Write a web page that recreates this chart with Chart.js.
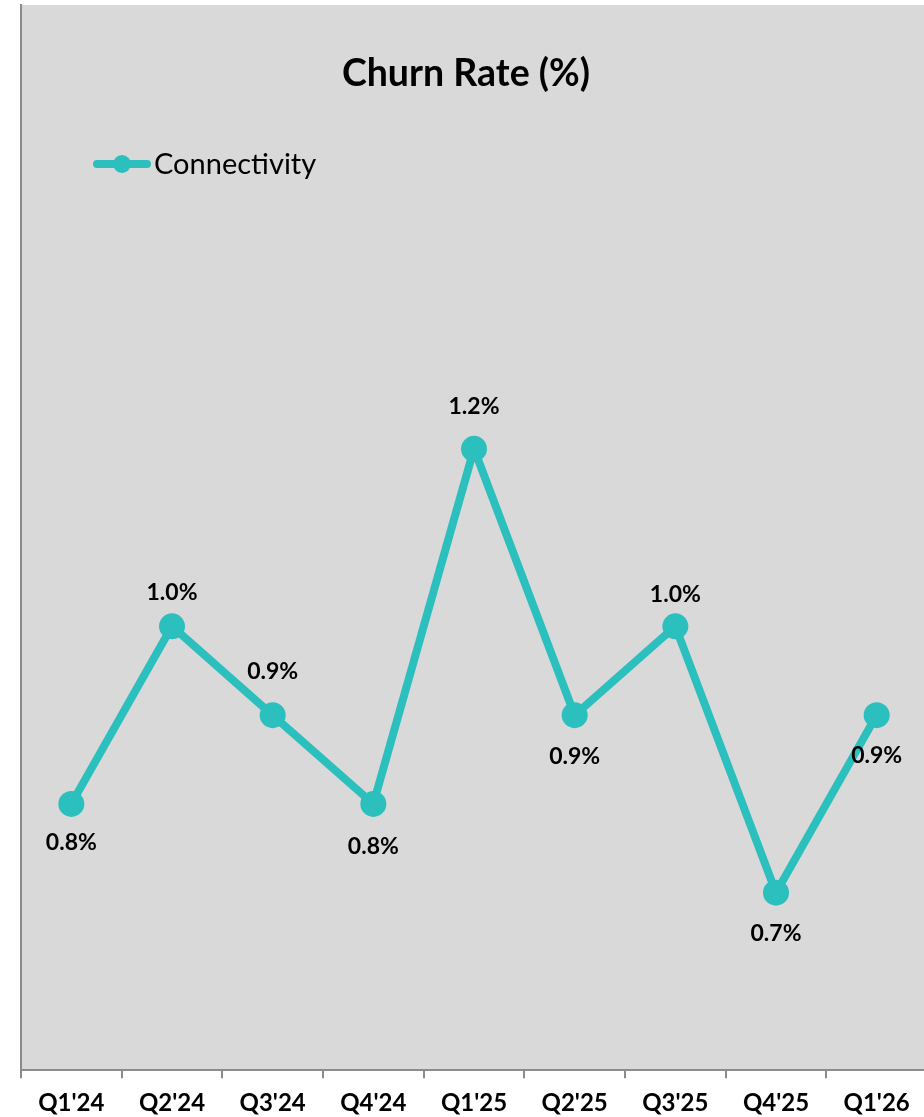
<!DOCTYPE html>
<html>
<head>
<meta charset="utf-8">
<script src="https://cdn.jsdelivr.net/npm/chart.js@4.4.1/dist/chart.umd.min.js"></script>
<style>
  html, body { margin: 0; padding: 0; background: #ffffff; overflow: hidden; }
  #wrap { position: relative; width: 927px; height: 1117px; }
</style>
</head>
<body>
<div id="wrap"><canvas id="c"></canvas></div>
<script>
// ---- data ----
const categories = ["Q1'24", "Q2'24", "Q3'24", "Q4'24", "Q1'25", "Q2'25", "Q3'25", "Q4'25", "Q1'26"];
const churnConnectivity = [0.8, 1.0, 0.9, 0.8, 1.2, 0.9, 1.0, 0.7, 0.9];
const seriesName = "Connectivity";
const chartTitle = "Churn Rate (%)";

// ---- style ----
const TEAL = '#2bbfbd';
const AXIS = '#8c8c8c';
const PLOT_BG = '#d9d9d9';
const FONT = 'Lato, "Open Sans", sans-serif';
// vertical offset (px) of each value label centre from its point
const labelOffsets = [38, -35, -44, 42, -43, 41, -33, 40, 40];
const LABEL_SIZE = 23;

const plotBackground = {
  id: 'plotBackground',
  beforeDraw(chart) {
    const { ctx, chartArea: a } = chart;
    ctx.save();
    ctx.fillStyle = PLOT_BG;
    ctx.fillRect(a.left, a.top, a.right - a.left, a.bottom - a.top);
    ctx.restore();
  }
};

const titleLegend = {
  id: 'titleLegend',
  afterDraw(chart) {
    const { ctx } = chart;
    ctx.save();
    // title
    ctx.fillStyle = '#000';
    ctx.font = 'bold 37.5px ' + FONT;
    ctx.textAlign = 'center';
    ctx.textBaseline = 'alphabetic';
    ctx.fillText(chartTitle, 466, 86);
    // legend
    ctx.strokeStyle = TEAL;
    ctx.lineWidth = 8;
    ctx.lineCap = 'round';
    ctx.beginPath();
    ctx.moveTo(97, 164);
    ctx.lineTo(147, 164);
    ctx.stroke();
    ctx.fillStyle = TEAL;
    ctx.beginPath();
    ctx.arc(122, 164, 9, 0, Math.PI * 2);
    ctx.fill();
    ctx.fillStyle = '#000';
    ctx.font = '29px ' + FONT;
    ctx.textAlign = 'left';
    ctx.fillText(seriesName, 154, 174);
    ctx.restore();
  }
};

const valueLabels = {
  id: 'valueLabels',
  afterDatasetsDraw(chart) {
    const { ctx } = chart;
    const meta = chart.getDatasetMeta(0);
    const ds = chart.data.datasets[0];
    ctx.save();
    ctx.fillStyle = '#000';
    ctx.font = 'bold ' + LABEL_SIZE + 'px ' + FONT;
    ctx.textAlign = 'center';
    ctx.textBaseline = 'alphabetic';
    meta.data.forEach((pt, i) => {
      const cy = pt.y + labelOffsets[i];
      ctx.fillText(ds.data[i].toFixed(1) + '%', pt.x, cy + LABEL_SIZE * 0.36);
    });
    ctx.restore();
  }
};

new Chart(document.getElementById('c'), {
  type: 'line',
  data: {
    labels: categories,
    datasets: [{
      label: seriesName,
      data: churnConnectivity,
      borderColor: TEAL,
      backgroundColor: TEAL,
      borderWidth: 8,
      pointRadius: 13,
      pointHoverRadius: 13,
      pointBorderWidth: 0,
      pointBackgroundColor: TEAL,
      tension: 0,
      fill: false
    }]
  },
  options: {
    responsive: true,
    maintainAspectRatio: false,
    animation: false,
    devicePixelRatio: 1,
    layout: { autoPadding: false, padding: { left: 21, top: 5, right: 0, bottom: -12 } },
    plugins: {
      legend: { display: false },
      title: { display: false },
      tooltip: { enabled: false }
    },
    scales: {
      x: {
        type: 'category',
        offset: true,
        grid: {
          display: true,
          offset: true,
          drawOnChartArea: false,
          drawTicks: true,
          tickLength: 8,
          color: AXIS,
          lineWidth: 2
        },
        border: { display: true, color: AXIS, width: 2 },
        ticks: {
          color: '#000',
          font: { family: FONT, size: 24, weight: 'bold' },
          padding: 11,
          maxRotation: 0,
          autoSkip: false
        }
      },
      y: {
        min: 0.5,
        max: 1.7,
        grid: { display: false, drawTicks: false },
        border: { display: true, color: AXIS, width: 2 },
        ticks: { display: false }
      }
    }
  },
  plugins: [plotBackground, valueLabels, titleLegend]
});
</script>
</body>
</html>
